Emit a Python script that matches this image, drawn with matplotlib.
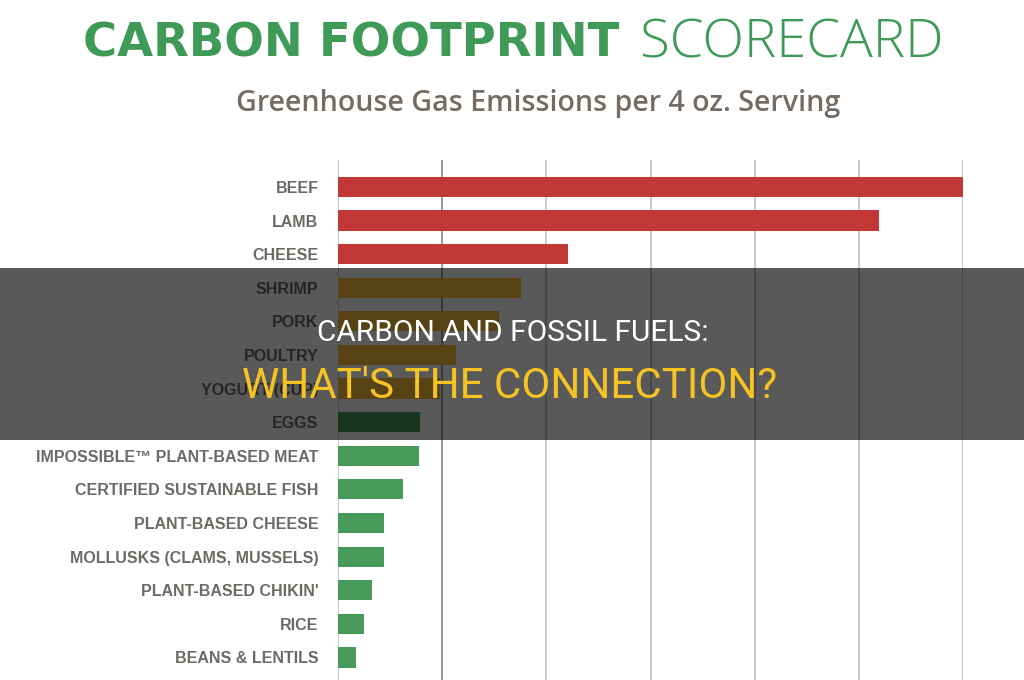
import matplotlib.pyplot as plt
from matplotlib.patches import Rectangle

foods = ["BEEF", "LAMB", "CHEESE", "SHRIMP", "PORK", "POULTRY", "YOGURT (CUP)", "EGGS",
         "IMPOSSIBLE™ PLANT-BASED MEAT", "CERTIFIED SUSTAINABLE FISH", "PLANT-BASED CHEESE",
         "MOLLUSKS (CLAMS, MUSSELS)", "PLANT-BASED CHIKIN'", "RICE", "BEANS & LENTILS"]
emissions = [6.0, 5.19, 2.21, 1.76, 1.55, 1.13, 0.98, 0.79, 0.78, 0.62, 0.44, 0.44, 0.33, 0.25, 0.17]
groups = ["high"] * 3 + ["mid"] * 4 + ["low"] * 8

group_colors = {"high": "#C13837", "mid": "#F7BE36", "low": "#479A59"}
colors = [group_colors[g] for g in groups]

fig = plt.figure(figsize=(10.24, 6.8), dpi=100)
fig.patch.set_facecolor("white")


def fit(txt, width_px, size):
    # scale the font so the text spans width_px
    fig.canvas.draw()
    w = txt.get_window_extent().width
    txt.set_fontsize(size * width_px / w)
    fig.canvas.draw()
    return txt


ax = fig.add_axes([338 / 1024, 0, (963 - 338) / 1024, 1 - 160 / 680])
ypos = list(range(len(foods)))
ax.barh(ypos, emissions, height=0.6, color=colors, zorder=3)
ax.set_xlim(0, 6)
ax.set_ylim(14.67, -0.8)

for x in range(7):
    ax.axvline(x, color="#9a9a9a" if x == 1 else "#c9c9c9", lw=1.4, zorder=1)

ax.set_yticks(ypos)
ax.set_yticklabels(foods, fontfamily="Liberation Sans", fontweight="bold",
                   fontsize=11.5, color="#6d6965")
ax.tick_params(axis="y", length=0, pad=14)
ax.set_xticks([])
for s in ax.spines.values():
    s.set_visible(False)

# title
t1 = fig.text(83 / 1024, 1 - 44 / 680, "CARBON FOOTPRINT", fontfamily="DejaVu Sans", fontweight="bold",
              fontsize=33, color="#3F9A58", va="center", ha="left")
fit(t1, 537, 33)
t2 = fig.text(640 / 1024, 1 - 44 / 680, "SCORECARD", fontfamily="Open Sans", fontweight="light",
              fontsize=33, color="#3F9A58", va="center", ha="left")
fit(t2, 304, 33)
t3 = fig.text(538 / 1024, 1 - 103 / 680, "Greenhouse Gas Emissions per 4 oz. Serving",
              fontfamily="Open Sans", fontweight="semibold", fontsize=20, color="#756b65",
              va="center", ha="center")
fit(t3, 603, 20)

# dark banner
fig.patches.append(Rectangle((0, 1 - 440 / 680), 1, (440 - 268) / 680, transform=fig.transFigure,
                             facecolor="black", alpha=0.65, zorder=10))
b1 = fig.text(513 / 1024, 1 - 333 / 680, "CARBON AND FOSSIL FUELS:", family=["Roboto", "DejaVu Sans"],
              fontsize=22, color="white", ha="center", va="center", zorder=11)
fit(b1, 390, 22)
b2 = fig.text(510 / 1024, 1 - 386 / 680, "WHAT'S THE CONNECTION?", family=["Roboto", "DejaVu Sans"],
              fontsize=29, color="#F6C324", ha="center", va="center", zorder=11)
fit(b2, 535, 29)

fig.savefig("out.png", dpi=100)
